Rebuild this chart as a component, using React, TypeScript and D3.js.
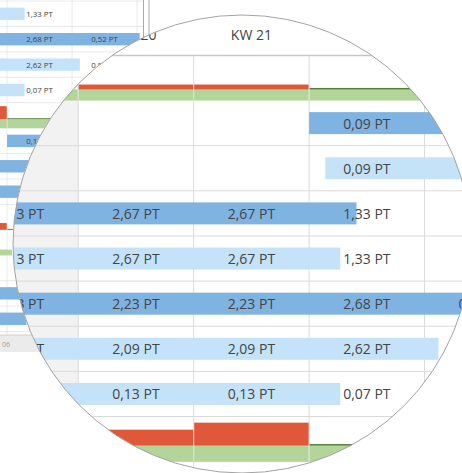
import React from "react";
import * as d3 from "d3";

// ---- data ----
const weeks = ["KW 19", "KW 20", "KW 21", "KW 22", "KW 23"];

// task bars (row index, start / end in week units, shade)
const taskRows = [1, 2, 3, 4, 5, 6, 7, 9, 10, 11, 15, 16];
const taskStart = [3.0, 3.14, -0.3, -0.3, -0.3, -0.3, -0.3, 3.0, -0.3, -0.3, -0.3, -0.3];
const taskEnd = [5.3, 5.3, 3.41, 3.27, 5.04, 4.12, 3.27, 3.6, 4.1, 4.1, 3.3, 3.3];
const taskShade = ["dark", "light", "dark", "light", "dark", "light", "light", "dark", "dark", "dark", "dark", "dark"];
const taskLabels = [
  ["", "", "", "0,09 PT", ""],
  ["", "", "", "0,09 PT", ""],
  ["2,13 PT", "2,67 PT", "2,67 PT", "1,33 PT", ""],
  ["2,13 PT", "2,67 PT", "2,67 PT", "1,33 PT", ""],
  ["2,23 PT", "2,23 PT", "2,23 PT", "2,68 PT", "0,52 PT"],
  ["2,09 PT", "2,09 PT", "2,09 PT", "2,62 PT", "0,52 PT"],
  ["0,13 PT", "0,13 PT", "0,13 PT", "0,07 PT", ""],
  ["", "", "", "0,13 PT", ""],
  ["", "", "", "", ""],
  ["", "", "", "", ""],
  ["", "", "", "", ""],
  ["", "", "", "", ""],
];

// load (capacity) segments
const loadRows = [0, 0, 0, 0, 8, 8, 8, 8, 12, 12, 13];
const loadStart = [-0.3, 1, 2, 3, -0.3, 1, 2, 3, 2, 3, -0.3];
const loadEnd = [1, 2, 3, 4.1, 1, 2, 3, 3.73, 3, 3.9, 3.08];
const loadGreen = [11, 11, 11, 11, 16, 16, 16, 16, 0, 0, 10];
const loadRed = [0, 5, 5, 0, 16, 16, 23, 0, 12, 0, 0];
const loadLine = [0, 0, 0, 1, 0, 0, 0, 1, 0, 1, 0];

const hiddenRowLines = [1, 13];
const ROW_COUNT = 18;

// ---- style ----
const W = 462;
const H = 473;
const DARK = "#7fb3e1";
const LIGHT = "#c5e3f8";
const RED = "#e0583a";
const GREEN = "#b4d59a";
const DGREEN = "#557f3a";
const GRID = "#dadada";
const TEXT = "#444444";
const FONT = "'Open Sans', 'Noto Sans', sans-serif";

const x = d3.scaleLinear().domain([0, 5]).range([-37.2, 540]);
const y = d3.scaleLinear().domain([0, ROW_COUNT]).range([55.4, 55.4 + ROW_COUNT * 45.14]);
const rowH = y(1) - y(0);

function Table({ header, minRow, minCol }: { header: boolean; minRow: number; minCol: number }) {
  const top = y(0);
  const bottom = y(ROW_COUNT);
  return (
    <g>
      <rect x={-60} y={-20} width={700} height={bottom + 40} fill="#fff" />
      <rect x={x(0)} y={top} width={x(1) - x(0)} height={bottom - top} fill="#f2f2f2" />
      {d3.range(0, 6).map((k) => (
        <line key={"v" + k} x1={x(k)} x2={x(k)} y1={top} y2={bottom} stroke={GRID} strokeWidth={1} />
      ))}
      {d3.range(1, ROW_COUNT + 1)
        .filter((k) => !hiddenRowLines.includes(k))
        .map((k) => (
          <line key={"h" + k} x1={-60} x2={640} y1={y(k)} y2={y(k)} stroke={GRID} strokeWidth={1} />
        ))}
      <line x1={-60} x2={640} y1={top} y2={top} stroke="#c6c6c6" strokeWidth={1.5} />
      {header &&
        weeks.map((w, i) => (
          <text
            key={"w" + i}
            x={(x(i) + x(i + 1)) / 2}
            y={34}
            textAnchor="middle"
            dominantBaseline="central"
            fontFamily={FONT}
            fontSize={14}
            fill={TEXT}
          >
            {w}
          </text>
        ))}
      {loadRows.map((r, i) => {
        const b = y(r + 1);
        const x0 = x(loadStart[i]) + 0.5;
        const x1 = x(loadEnd[i]) - 0.5;
        return (
          <g key={"l" + i}>
            {loadGreen[i] > 0 && (
              <rect x={x0} y={b - loadGreen[i]} width={x1 - x0} height={loadGreen[i]} fill={GREEN} />
            )}
            {loadRed[i] > 0 && (
              <rect x={x0} y={b - loadGreen[i] - loadRed[i]} width={x1 - x0} height={loadRed[i]} fill={RED} />
            )}
            {loadLine[i] > 0 && (
              <rect x={x0} y={b - loadGreen[i] - 1.6} width={x1 - x0} height={1.6} fill={DGREEN} />
            )}
          </g>
        );
      })}
      {taskRows.map((r, i) => {
        const c = y(r) + rowH / 2;
        return (
          <rect
            key={"t" + i}
            x={x(taskStart[i])}
            y={c - 11}
            width={x(taskEnd[i]) - x(taskStart[i])}
            height={22}
            fill={taskShade[i] === "dark" ? DARK : LIGHT}
          />
        );
      })}
      {taskRows.map((r, i) =>
        r < minRow
          ? null
          : taskLabels[i].map((s, j) =>
              s && j >= minCol ? (
                <text
                  key={"tx" + i + "-" + j}
                  x={(x(j) + x(j + 1)) / 2}
                  y={y(r) + rowH / 2}
                  textAnchor="middle"
                  dominantBaseline="central"
                  fontFamily={FONT}
                  fontSize={14}
                  fill={TEXT}
                >
                  {s}
                </text>
              ) : null
            )
      )}
    </g>
  );
}

const CX = 242;
const CY = 244;
const R = 229;
const BG_SCALE = 1 / 1.776;

export default function App() {
  return (
    <svg width={W} height={H} style={{ position: "absolute", left: 0, top: 0, background: "#fff" }}>
      <defs>
        <clipPath id="bgClip">
          <rect x={0} y={0} width={143} height={335} />
        </clipPath>
        <clipPath id="lens">
          <circle cx={CX} cy={CY} r={R} />
        </clipPath>
      </defs>
      <rect x={0} y={0} width={W} height={H} fill="#fff" />
      {/* zoomed-out background screenshot */}
      <g clipPath="url(#bgClip)">
        <g transform={`translate(-167,-131.8) scale(${BG_SCALE})`}>
          <Table header={false} minRow={4} minCol={3} />
        </g>
      </g>
      <rect x={143.5} y={-2} width={5.5} height={40} fill="#fff" stroke="#a9a9a9" strokeWidth={1} />
      <rect x={0} y={335} width={143} height={17} fill="#ebebeb" />
      <line x1={0} x2={143} y1={335} y2={335} stroke="#cfcfcf" strokeWidth={1} />
      <text x={2} y={347} fontFamily={FONT} fontSize={7} fill="#a0a0a0">
        06
      </text>
      {/* magnifier */}
      <circle cx={CX} cy={CY} r={R} fill="#fff" />
      <g clipPath="url(#lens)">
        <Table header={true} minRow={0} minCol={0} />
      </g>
      <circle cx={CX} cy={CY} r={R} fill="none" stroke="#a3a3a3" strokeWidth={1} />
    </svg>
  );
}
